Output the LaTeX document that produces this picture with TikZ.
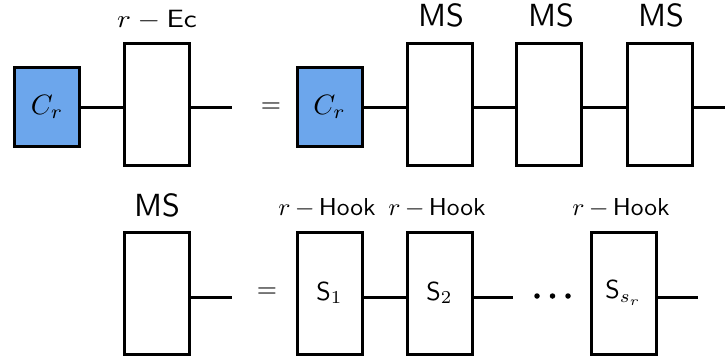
\documentclass[tikz,border=0pt]{standalone}
\usepackage{graphicx}
\usetikzlibrary{calc}
\definecolor{crblue}{RGB}{108,166,236}
\newcommand{\bigtxt}[2]{\scalebox{#1}{#2}}
\newcommand{\hooklbl}{\scalebox{2.55}[2.45]{$r\mkern3mu{-}\mkern3mu\mathsf{Hook}$}}
\tikzset{
  wire/.style={line width=3pt},
  tallbox/.style={draw, line width=3pt, fill=white, minimum width=65pt, minimum height=122pt, inner sep=0pt},
  crbox/.style={draw, line width=3pt, fill=crblue, minimum width=65pt, minimum height=79pt, inner sep=0pt},
  lbl/.style={inner sep=0pt},
  dot/.style={circle, fill=black, inner sep=0pt, minimum size=5.5pt}
}
\begin{document}
\begin{tikzpicture}[x=1pt,y=1pt]
\useasboundingbox (0,0) rectangle (725,360);
% top row
\node[crbox] (cr1) at (47,253) {\bigtxt{2.8}{$C_r$}};
\node[tallbox] (ec) at (157,255.5) {};
\coordinate (e1) at (232,253);
\node[lbl] (eq1) at (271,252) {\bigtxt{2.6}{$=$}};
\node[crbox] (cr2) at (329.5,253) {\bigtxt{2.8}{$C_r$}};
\node[tallbox] (ms1) at (439.5,255.5) {};
\node[tallbox] (ms2) at (549,255.5) {};
\node[tallbox] (ms3) at (659.5,255.5) {};
\coordinate (e2) at (725,253);
\node[lbl] (lec) at (157,340) {\scalebox{2.9}[2.5]{$r-\mathsf{Ec}$}};
\node[lbl] (lms1) at (441,345) {\bigtxt{3.2}{\sffamily MS}};
\node[lbl] (lms2) at (551,345) {\bigtxt{3.2}{\sffamily MS}};
\node[lbl] (lms3) at (661,345) {\bigtxt{3.2}{\sffamily MS}};
\draw[wire] (cr1.east) -- (cr1.east -| ec.west);
\draw[wire] (cr1.east -| ec.east) -- (e1);
\draw[wire] (cr2.east) -- (cr2.east -| ms1.west);
\draw[wire] (cr2.east -| ms1.east) -- (cr2.east -| ms2.west);
\draw[wire] (cr2.east -| ms2.east) -- (cr2.east -| ms3.west);
\draw[wire] (cr2.east -| ms3.east) -- (e2);
% bottom row
\node[tallbox] (ms) at (157,67) {};
\coordinate (b1) at (232,63);
\node[lbl] (eq2) at (267,67) {\bigtxt{2.6}{$=$}};
\node[tallbox] (s1) at (329.5,67) {\bigtxt{2.6}{$\mathsf{S}_1$}};
\node[tallbox] (s2) at (439.5,67) {\bigtxt{2.6}{$\mathsf{S}_2$}};
\node[tallbox] (ss) at (623.5,67) {\bigtxt{2.6}{$\mathsf{S}_{s_r}$}};
\coordinate (b2) at (513,63);
\coordinate (b3) at (698,63);
\node[dot] (d1) at (537,64) {};
\node[dot] (d2) at (552.5,64) {};
\node[dot] (d3) at (568,64) {};
\node[lbl] (lms) at (157,155) {\bigtxt{3.2}{\sffamily MS}};
\node[lbl] (lh1) at (327,152) {\hooklbl};
\node[lbl] (lh2) at (437,152) {\hooklbl};
\node[lbl] (lh3) at (621,152) {\hooklbl};
\draw[wire] (b1 -| ms.east) -- (b1);
\draw[wire] (b1 -| s1.east) -- (b1 -| s2.west);
\draw[wire] (b1 -| s2.east) -- (b2);
\draw[wire] (b1 -| ss.east) -- (b3);
\end{tikzpicture}
\end{document}
